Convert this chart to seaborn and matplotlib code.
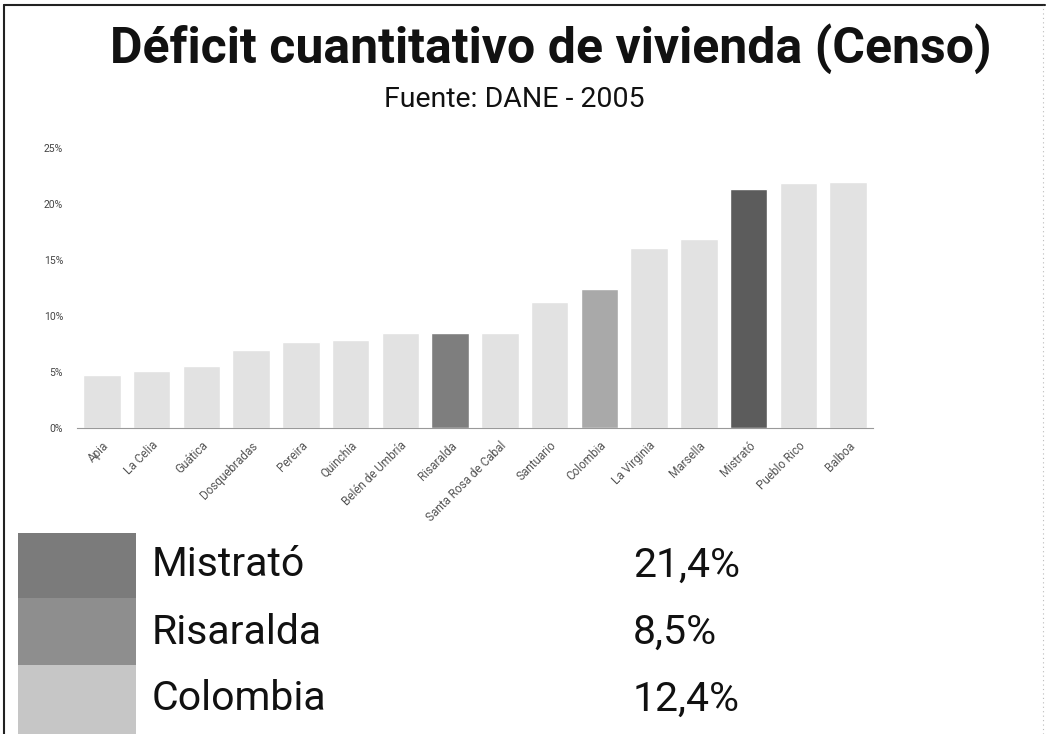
import seaborn as sns
import matplotlib.pyplot as plt
import matplotlib.patches as mpatches
import pandas as pd

# Datos: déficit cuantitativo de vivienda por municipio (%)
municipios = [
    "Apia", "La Celia", "Guática", "Dosquebradas", "Pereira", "Quinchía",
    "Belén de Umbría", "Risaralda", "Santa Rosa de Cabal", "Santuario",
    "Colombia", "La Virginia", "Marsella", "Mistrató", "Pueblo Rico", "Balboa",
]
deficit = [4.7, 5.1, 5.5, 7.0, 7.7, 7.9, 8.5, 8.5, 8.5, 11.3,
           12.4, 16.1, 16.9, 21.4, 21.9, 22.0]

y_ticks = [0, 5, 10, 15, 20, 25]

destacados = ["Mistrató", "Risaralda", "Colombia"]
destacados_valores = ["21,4%", "8,5%", "12,4%"]

color_base = "#e2e2e2"
colores_barras = {"Mistrató": "#5c5c5c", "Risaralda": "#7e7e7e", "Colombia": "#a9a9a9"}
colores_leyenda = ["#7b7b7b", "#8e8e8e", "#c6c6c6"]

sns.set_style("white")
plt.rcParams["font.family"] = ["Roboto", "DejaVu Sans"]

df = pd.DataFrame({"municipio": municipios, "deficit": deficit})
palette = {m: colores_barras.get(m, color_base) for m in municipios}

W, H = 1046, 734
fig = plt.figure(figsize=(W / 100, H / 100), dpi=100)
ax = fig.add_axes([0.0736, 0.417, 0.761, 0.381])

sns.barplot(data=df, x="municipio", y="deficit", hue="municipio",
            palette=palette, legend=False, width=0.75, ax=ax)

ax.set_ylim(0, 25)
ax.set_xlim(-0.5, len(municipios) - 0.5)
ax.set_yticks(y_ticks)
ax.set_yticklabels([f"{t}%" for t in y_ticks], fontsize=7.5, color="#444444")
ax.set_xticks(range(len(municipios)))
ax.set_xticklabels(municipios, rotation=45, ha="right", rotation_mode="anchor",
                   fontsize=8.5, color="#555555")
ax.tick_params(axis="y", pad=10, length=0)
ax.tick_params(axis="x", pad=8, length=0)
ax.set_xlabel("")
ax.set_ylabel("")
for s in ["top", "right", "left"]:
    ax.spines[s].set_visible(False)
ax.spines["bottom"].set_color("#999999")
ax.spines["bottom"].set_linestyle((0, (1, 1)))
ax.spines["bottom"].set_linewidth(0.8)

# Títulos
fig.text(551 / W, 1 - 63 / H, "Déficit cuantitativo de vivienda (Censo)",
         ha="center", va="baseline", fontsize=36, fontweight="bold", color="#111111")
fig.text(514 / W, 1 - 107 / H, "Fuente: DANE - 2005",
         ha="center", va="baseline", fontsize=20.5, color="#111111")

# Leyenda inferior con valores destacados
filas_y = [565, 632, 699]
bordes = [533, 598, 665, 734]
for i, (nombre, valor) in enumerate(zip(destacados, destacados_valores)):
    y0, y1 = bordes[i], bordes[i + 1]
    fig.patches.append(mpatches.Rectangle(
        (18 / W, 1 - y1 / H), 118 / W, (y1 - y0) / H,
        transform=fig.transFigure, facecolor=colores_leyenda[i], edgecolor="none"))
    fig.text(152 / W, 1 - filas_y[i] / H, nombre, ha="left", va="center",
             fontsize=29.5, color="#111111")
    fig.text(633 / W, 1 - filas_y[i] / H, valor, ha="left", va="center",
             fontsize=29.5, color="#111111")

# Marco del documento escaneado
fig.add_artist(plt.Line2D([0.004, 0.999], [0.993, 0.993], transform=fig.transFigure,
                          color="#222222", lw=1.5))
fig.add_artist(plt.Line2D([0.004, 0.004], [0.0, 0.993], transform=fig.transFigure,
                          color="#222222", lw=1.5))
fig.add_artist(plt.Line2D([0.997, 0.997], [0.0, 0.993], transform=fig.transFigure,
                          color="#bbbbbb", lw=0.8, linestyle=(0, (1, 3))))

fig.savefig("out.png", dpi=100)
